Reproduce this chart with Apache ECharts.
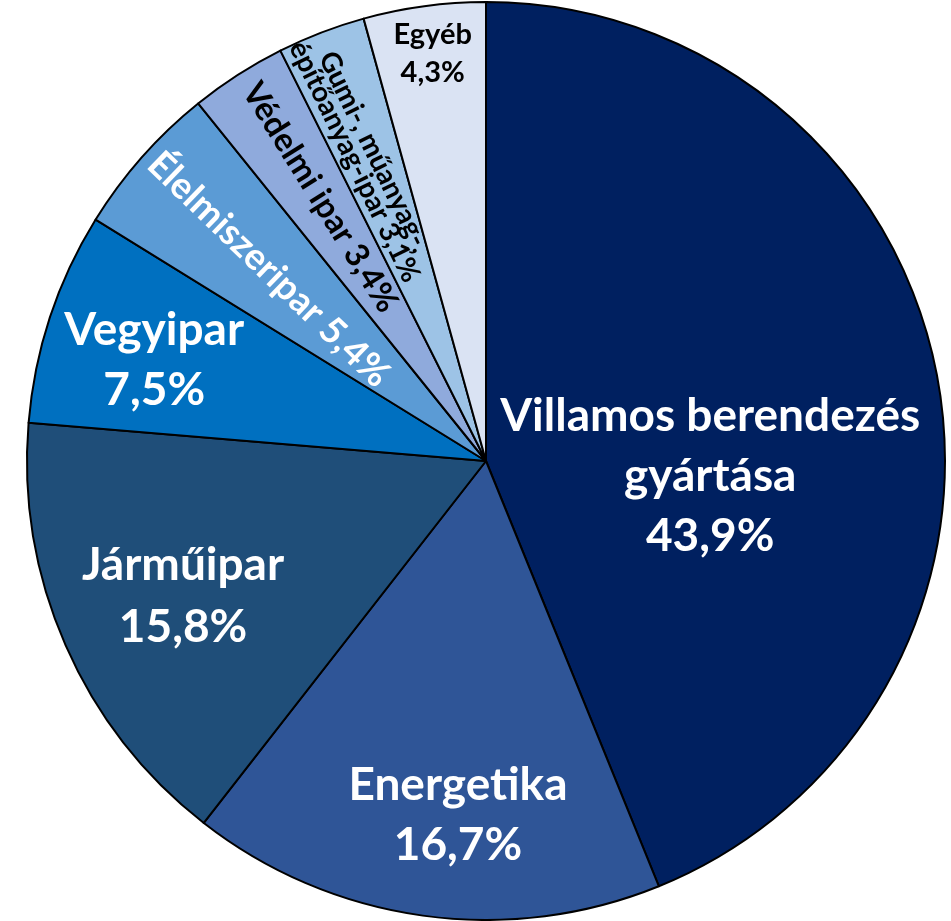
<!DOCTYPE html>
<html>
<head>
<meta charset="utf-8">
<script src="https://cdn.jsdelivr.net/npm/echarts@6/dist/echarts.min.js"></script>
<style>
  html, body { margin: 0; padding: 0; background: #fff; }
  #chart { width: 951px; height: 921px; }
</style>
</head>
<body>
<div id="chart"></div>
<script>
// ágazatok (óramutató járásával egyező irányban, felülről)
var categories = ['Villamos berendezés gyártása', 'Energetika', 'Járműipar', 'Vegyipar',
    'Élelmiszeripar', 'Védelmi ipar', 'Gumi-, műanyag-, építőanyag-ipar', 'Egyéb'];
var labelNames = ['Villamos berendezés\ngyártása', 'Energetika', 'Járműipar', 'Vegyipar',
    'Élelmiszeripar', 'Védelmi ipar', 'Gumi-, műanyag-,\népítőanyag-ipar', 'Egyéb'];
var shares = [43.9, 16.7, 15.8, 7.5, 5.4, 3.4, 3.1, 4.3];

var colors = ['#002060', '#2F5597', '#1F4E79', '#0070C0', '#5B9BD5', '#8FAADC', '#9DC3E6', '#DAE3F3'];
// címke beállítások szeletenként (offset forgatott címkénél a címke saját irányában)
var labelOpts = [
    {fontSize: 46, lh: 60, color: '#fff', offset: [-4, 60], sep: '\n'},
    {fontSize: 46, lh: 60, color: '#fff', offset: [4, 124], sep: '\n'},
    {fontSize: 46, lh: 62, color: '#fff', offset: [-90, 42], sep: '\n'},
    {fontSize: 46, lh: 60, color: '#fff', offset: [-111, -28], sep: '\n'},
    {fontSize: 37, lh: 40, color: '#fff', offset: [-57, 3], sep: ' ', rotate: -44},
    {fontSize: 33, lh: 38, color: '#000', offset: [-79, -2], sep: ' ', rotate: -58},
    // a szelet keskeny, nagyobb sortávnál az ECharts elrejti a címkét
    {fontSize: 28, lh: 22, color: '#000', offset: [-95, -4], sep: ' ', rotate: -64},
    {fontSize: 29, lh: 38, color: '#000', offset: [-22, -177], sep: '\n'}
];

function pct(v){
    return v.toFixed(1).replace('.', ',') + '%';
}

var data = [];
for (var i = 0; i < shares.length; i++) {
    var lo = labelOpts[i];
    var label = {
        color: lo.color,
        fontSize: lo.fontSize,
        lineHeight: lo.lh,
        offset: lo.offset,
        formatter: labelNames[i] + lo.sep + pct(shares[i])
    };
    if (lo.rotate !== undefined) {
        label.rotate = lo.rotate;
    }
    data.push({
        name: categories[i],
        value: shares[i],
        itemStyle: {color: colors[i]},
        label: label
    });
}

var myChart = echarts.init(document.getElementById('chart'));
var option = {
    animation: false,
    series: [{
        type: 'pie',
        center: [486, 461],
        radius: [0, 459],
        startAngle: 90,
        clockwise: true,
        avoidLabelOverlap: false,
        itemStyle: {
            borderColor: '#000',
            borderWidth: 2
        },
        label: {
            show: true,
            position: 'inside',
            fontFamily: 'Lato',
            fontWeight: 'bold',
            align: 'center'
        },
        labelLine: {show: false},
        emphasis: {disabled: true},
        data: data
    }]
};
myChart.setOption(option);
</script>
</body>
</html>
